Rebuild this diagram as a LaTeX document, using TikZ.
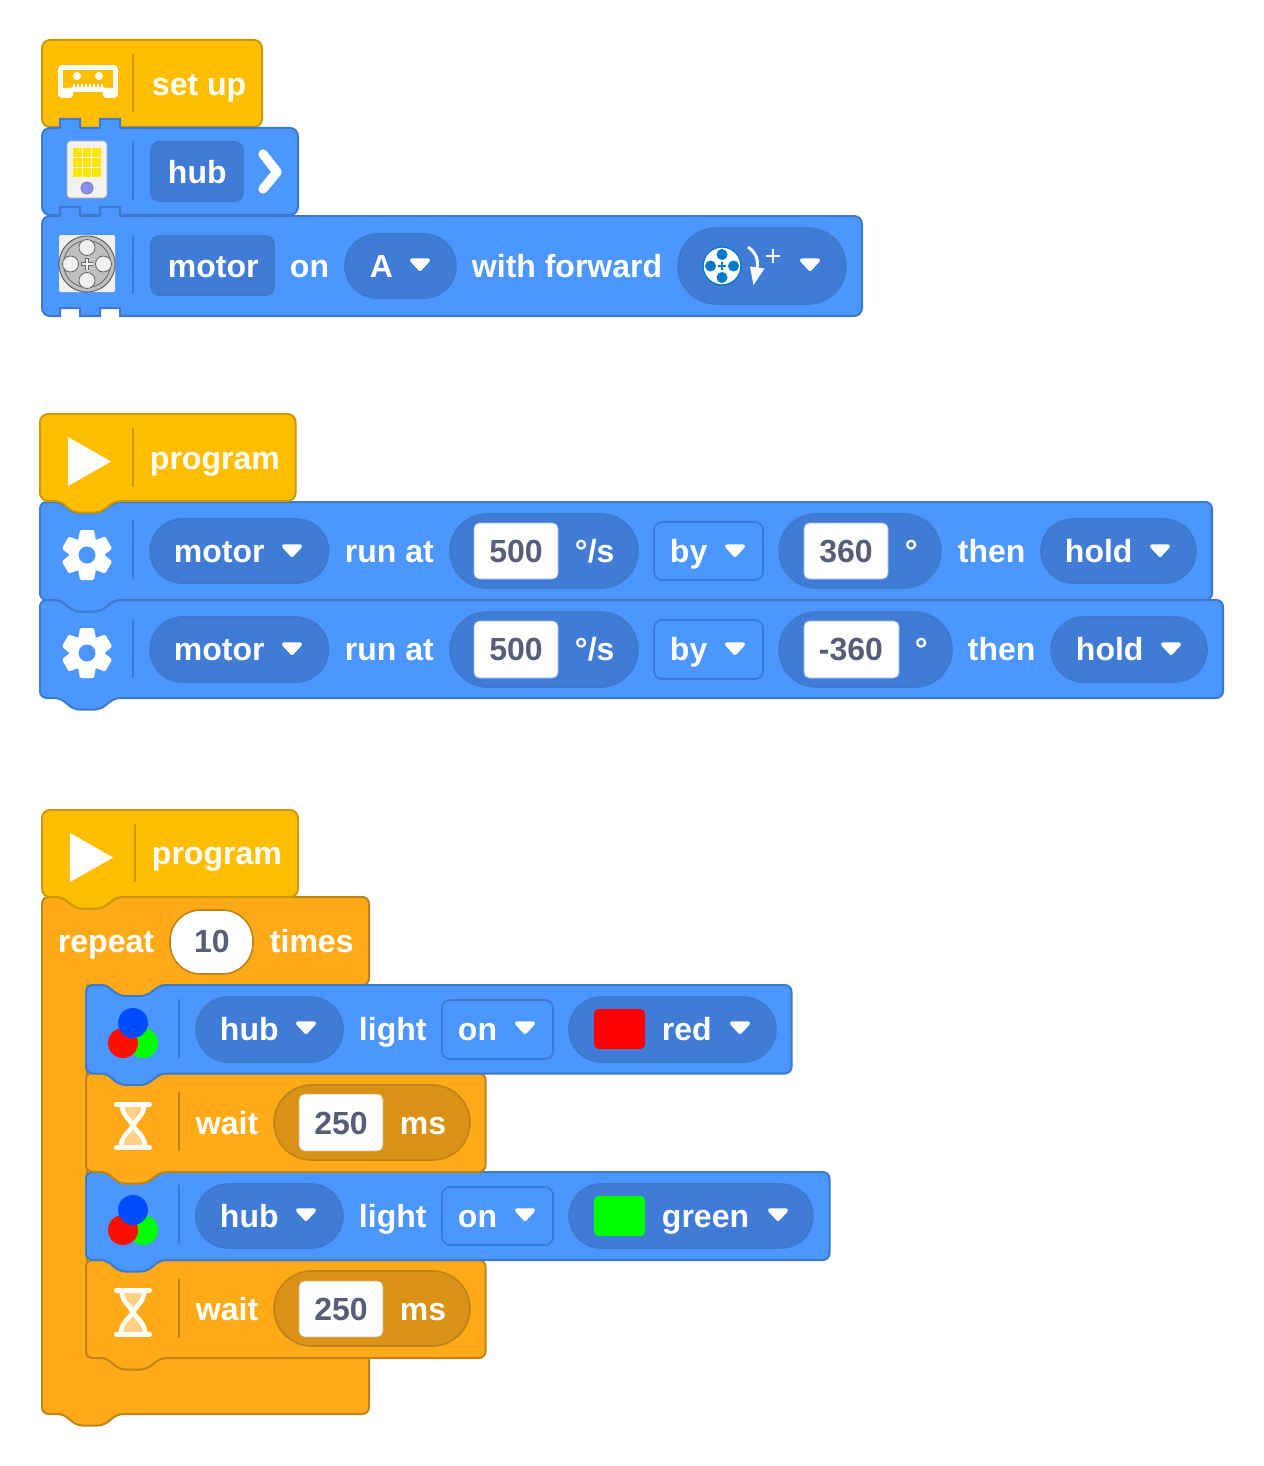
\documentclass[tikz,border=0pt]{standalone}
\usepackage{fontspec}
\setmainfont{Liberation Sans}
\definecolor{hatY}{HTML}{FFBF00}
\definecolor{hatS}{HTML}{CC9900}
\definecolor{bluB}{HTML}{4C97FF}
\definecolor{bluS}{HTML}{3D79CC}
\definecolor{bluP}{HTML}{407CD6}
\definecolor{orgB}{HTML}{FFAB19}
\definecolor{orgS}{HTML}{BF8317}
\definecolor{orgP}{HTML}{D99116}
\definecolor{valG}{HTML}{575E75}
\definecolor{sand}{HTML}{FFD085}
\definecolor{fwd}{HTML}{0079C8}
\definecolor{iconW}{HTML}{F2F2F2}
\definecolor{iconG}{HTML}{C0C0C0}
\tikzset{
 hatblock/.style={fill=hatY,draw=hatS,line width=1.5pt},
 blueblock/.style={fill=bluB,draw=bluS,line width=1.5pt},
 orangeblock/.style={fill=orgB,draw=orgS,line width=1.5pt},
 bluepill/.style={fill=bluP,draw=bluS,line width=1.2pt},
 bluemenu/.style={fill=bluB,draw=bluS,line width=1.2pt},
 orangepill/.style={fill=orgP,draw=orgS,line width=1.2pt},
 whitebox/.style={fill=white,draw=bluS!50,line width=0.6pt,rounded corners=4pt},
 whiteboxO/.style={fill=white,draw=orgS!60,line width=0.6pt,rounded corners=4pt},
 labeltext/.style={text=white,font=\bfseries\fontsize{24}{28}\selectfont,inner sep=0pt,anchor=base west},
 valuetext/.style={text=valG,font=\bfseries\fontsize{24}{28}\selectfont,inner sep=0pt,anchor=base},
}
\newcommand\lbl[4]{\node[labeltext] (#1) at (#2-0.3,#3) {#4};}
\newcommand\val[4]{\node[valuetext] (#1) at (#2,#3) {#4};}
\newcommand\divider[4]{\draw[#1,line width=1.5pt] (#2,#3) -- (#2,#4);}
\newcommand\dropd[2]{\path[fill=white,draw=white,line width=3pt,line join=round] (#1-8,#2-4.7) -- (#1+8,#2-4.7) -- (#1,#2+4) -- cycle;}
\newcommand\pill[5]{\pgfmathsetmacro\myr{(#5-#3)*0.375}\path[#1,rounded corners=\myr pt] (#2,#3) rectangle (#4,#5);}
\newcommand\sqbox[5]{\path[#1,rounded corners=6pt] (#2,#3) rectangle (#4,#5);}
% scratch block with notch on top and bottom
\newcommand\blockS[5]{\path[#1,rounded corners=5pt] (#2,#3+20) -- (#2,#3) [rounded corners=4pt] -- (#2+20,#3) -- (#2+34,#3+11) -- (#2+60,#3+11) -- (#2+75,#3) [rounded corners=5pt] -- (#4,#3) -- (#4,#5) [rounded corners=4pt] -- (#2+75,#5) -- (#2+60,#5+11.5) -- (#2+34,#5+11.5) -- (#2+20,#5) [rounded corners=5pt] -- (#2,#5) -- cycle;}
% hat block: bottom notch only
\newcommand\blockH[5]{\path[#1,rounded corners=6pt] (#2,#3+20) -- (#2,#3) -- (#4,#3) -- (#4,#5) [rounded corners=4pt] -- (#2+75,#5) -- (#2+60,#5+11.5) -- (#2+34,#5+11.5) -- (#2+20,#5) [rounded corners=6pt] -- (#2,#5) -- cycle;}
% puzzle block: tabs on top, cuts at the bottom
\newcommand\blockP[5]{\path[#1,rounded corners=6pt] (#2,#3+20) -- (#2,#3) [sharp corners] -- (#2+18,#3) -- (#2+18,#3-9) -- (#2+38,#3-9) -- (#2+38,#3) -- (#2+58,#3) -- (#2+58,#3-9) -- (#2+78,#3-9) -- (#2+78,#3) [rounded corners=6pt] -- (#4,#3) -- (#4,#5) [sharp corners] -- (#2+78,#5) -- (#2+78,#5-8) -- (#2+58,#5-8) -- (#2+58,#5) -- (#2+38,#5) -- (#2+38,#5-8) -- (#2+18,#5-8) -- (#2+18,#5) [rounded corners=6pt] -- (#2,#5) -- cycle;}
\newcommand\gear[2]{\begin{scope}[shift={(#1,#2)}]
 \fill[white] (0,0) circle (18);
 \foreach \a in {0,60,...,300} {\fill[white,rotate=\a,rounded corners=1pt] (-7,-25) -- (7,-25) -- (9.5,-10) -- (-9.5,-10) -- cycle;}
 \fill[bluB] (0,0) circle (8.5);
 \end{scope}}
\newcommand\rgb[2]{\begin{scope}[shift={(#1,#2)}]
 \fill[green] (10,20) circle (15);
 \fill[red!90!orange] (-10,20) circle (15);
 \fill[blue!70!cyan] (0,0) circle (15);
 \end{scope}}
\newcommand\hourglass[2]{\begin{scope}[shift={(#1,#2)}]
 \fill[sand] (-10,-20) -- (10,-20) -- (0,-3) -- cycle;
 \fill[sand] (0,3) -- (11,20) -- (-11,20) -- cycle;
 \draw[white,line width=3.5pt] (0,0) .. controls (-3,-6) and (-10.5,-10) .. (-11.5,-21);
 \draw[white,line width=3.5pt] (0,0) .. controls (3,-6) and (10.5,-10) .. (11.5,-21);
 \draw[white,line width=3.5pt] (0,0) .. controls (-3,6) and (-11.5,10) .. (-12.5,22);
 \draw[white,line width=3.5pt] (0,0) .. controls (3,6) and (11.5,10) .. (12.5,22);
 \fill[white] (0,0) circle (3.2);
 \draw[white,line width=3.75pt,line cap=round] (-16.5,-21.3) -- (16.5,-21.3);
 \draw[white,line width=3.75pt,line cap=round] (-16.5,22) -- (16.5,22);
 \end{scope}}
\begin{document}
\begin{tikzpicture}[x=0.75pt,y=-0.75pt]
\useasboundingbox (0,0) rectangle (1263,1466);
\fill[white] (0,0) rectangle (1263,1466);

%% ---------- stack 1 ----------
\blockH{hatblock}{42}{40}{262}{127}
\divider{hatS}{133}{54}{112}
% tape icon
\draw[white,line width=3.7pt,line join=round,rounded corners=1.5pt] (60.5,95.5) -- (60.5,67.5) -- (115.5,67.5) -- (115.5,95.5) -- (105,95.5) -- (105,89.5) -- (71,89.5) -- (71,95.5) -- cycle;
\fill[white] (60,88) rectangle (71,96) (105,88) rectangle (116,96);
\fill[white] (77,76) circle (4) (99,76) circle (4);
\foreach \tx in {74,78,...,102} {\draw[white,line width=0.8pt] (\tx,84) -- (\tx,88);}
\lbl{setup}{152}{96}{set up}

\blockP{blueblock}{42}{128}{298}{215}
\divider{bluS}{133}{141}{200}
\draw[fill=iconW,draw=gray!70,line width=0.7pt,rounded corners=2.5pt] (67,141) rectangle (107,198);
\fill[yellow!90!orange] (73,148) rectangle (101,177);
\draw[iconW,line width=0.8pt] (82.3,148) -- (82.3,177) (91.7,148) -- (91.7,177) (73,157.7) -- (101,157.7) (73,167.3) -- (101,167.3);
\draw[fill=blue!45!white,draw=gray,line width=0.6pt] (87,188) circle (6);
\sqbox{bluepill}{151}{142}{243}{201}
\lbl{hubA}{168}{183}{hub}
\draw[white,line width=7pt,line cap=round,line join=round] (263,154) -- (277,172) -- (263,189);

\blockP{blueblock}{42}{216}{862}{316}
\divider{bluS}{133}{235}{294}
\fill[iconW,rounded corners=1.5pt] (59,235) rectangle (115,292);
\draw[fill=iconG,draw=gray!80!black,line width=0.8pt] (87,264) circle (28);
\draw[gray!80!black,line width=0.6pt] (87,264) circle (23.5);
\foreach \dx/\dy in {0/-16.5,0/16.5,-16.5/0,16.5/0} {\draw[fill=iconW,draw=gray!80!black,line width=0.6pt] (87+\dx,264+\dy) circle (8);}
\draw[gray!80!black,line width=2.4pt] (81,264) -- (93,264) (87,258) -- (87,270);
\draw[iconW,line width=1.3pt] (81.5,264) -- (92.5,264) (87,258.5) -- (87,269.5);
\sqbox{bluepill}{151}{236}{274}{295}
\lbl{motorA}{168}{277}{motor}
\lbl{onA}{290}{277}{on}
\pill{bluepill}{345}{234}{456}{298}
\lbl{portA}{370}{277}{A}
\dropd{420}{265}
\lbl{withfwd}{472}{277}{with forward}
\pill{bluepill}{678}{228}{846}{304}
\draw[fill=white,draw=fwd,line width=1pt] (722,266) circle (19);
\foreach \dx/\dy in {0/-11.5,0/11.5,-11.5/0,11.5/0} {\fill[fwd] (722+\dx,266+\dy) circle (5.5);}
\draw[fwd,line width=1.5pt] (718,266) -- (726,266) (722,262) -- (722,270);
\draw[white,line width=2.2pt] (748,247) .. controls (755,252) and (759,259) .. (757,268);
\fill[white] (750,266.5) -- (764.5,268.5) -- (753.5,285) -- cycle;
\draw[white,line width=2.1pt] (766,256) -- (780,256) (773,249) -- (773,263);
\dropd{810}{265}

%% ---------- stack 2 ----------
\blockS{blueblock}{40}{600}{1223}{698}
\gear{87}{653}
\divider{bluS}{133}{619}{678}
\pill{bluepill}{150}{617}{328.5}{682}
\lbl{motorC}{174}{660}{motor}
\dropd{292}{649}
\lbl{runC}{345}{660}{run at}
\pill{bluepill}{450}{612}{638}{687}
\path[whitebox] (474,621) rectangle (558,678);
\val{valC}{516}{660}{500}
\lbl{dpsC}{575}{660}{°/s}
\sqbox{bluemenu}{654}{620}{763}{679}
\lbl{byC}{670}{660}{by}
\dropd{735}{649}
\pill{bluepill}{779}{612}{952}{687}
\path[whitebox] (804,621) rectangle (899,678);
\val{degC}{851}{660}{-360}
\lbl{degCu}{915}{660}{°}
\lbl{thenC}{968}{660}{then}
\pill{bluepill}{1051}{617}{1207}{682}
\lbl{holdC}{1076}{660}{hold}
\dropd{1171}{649}

\blockS{blueblock}{40}{502}{1212}{600}
\gear{87}{555}
\divider{bluS}{133}{520}{579}
\pill{bluepill}{150}{519}{328.5}{583}
\lbl{motorB}{174}{562}{motor}
\dropd{292}{551}
\lbl{runB}{345}{562}{run at}
\pill{bluepill}{450}{514}{638}{588}
\path[whitebox] (474,523) rectangle (558,579);
\val{valB}{516}{562}{500}
\lbl{dpsB}{575}{562}{°/s}
\sqbox{bluemenu}{654}{522}{763}{580}
\lbl{byB}{670}{562}{by}
\dropd{735}{551}
\pill{bluepill}{779}{514}{941}{588}
\path[whitebox] (804,523) rectangle (888,579);
\val{degB}{846}{562}{360}
\lbl{degBu}{905}{562}{°}
\lbl{thenB}{958}{562}{then}
\pill{bluepill}{1041}{519}{1196}{583}
\lbl{holdB}{1065}{562}{hold}
\dropd{1160}{551}

\blockH{hatblock}{40}{414}{295.5}{501}
\divider{hatS}{133}{428}{487}
\fill[white] (68,437) -- (111,461.5) -- (68,486) -- cycle;
\lbl{progA}{150}{469}{program}

%% ---------- stack 3 ----------
% C-shaped repeat block
\path[orangeblock,rounded corners=5pt] (42,917) -- (42,897) [rounded corners=4pt] -- (62,897) -- (76,908) -- (102,908) -- (117,897) [rounded corners=5pt] -- (369,897) -- (369,985) -- (300,985) [sharp corners] -- (161,985.5) -- (146,997) -- (120,997) -- (106,985.5) -- (87,985.5) -- (87,1356) -- (369,1356) [rounded corners=5pt] -- (369,1414) [rounded corners=4pt] -- (118,1414) -- (103,1425.5) -- (77,1425.5) -- (63,1414) [rounded corners=5pt] -- (42,1414) -- cycle;

\blockS{orangeblock}{86}{1260}{485.5}{1358}
\hourglass{133}{1312}
\divider{orgS}{179}{1279}{1338}
\lbl{waitB}{196}{1320}{wait}
\pill{orangepill}{274}{1271}{470}{1346}
\path[whiteboxO] (299,1281) rectangle (383,1337);
\val{msvB}{341}{1320}{250}
\lbl{msB}{400}{1320}{ms}

\blockS{blueblock}{86}{1172}{829.5}{1260}
\rgb{133}{1210}
\divider{bluS}{179}{1185}{1244}
\pill{bluepill}{196}{1184}{343}{1248}
\lbl{hubC}{220}{1227}{hub}
\dropd{306}{1215}
\lbl{lightB}{359}{1227}{light}
\sqbox{bluemenu}{442}{1187}{553}{1245}
\lbl{onC}{458}{1227}{on}
\dropd{525}{1215}
\pill{bluepill}{569}{1184}{813}{1248}
\fill[green,rounded corners=3.5pt] (594,1196) rectangle (645,1236);
\lbl{greenl}{662}{1227}{green}
\dropd{778}{1215}

\blockS{orangeblock}{86}{1073}{485.5}{1172}
\hourglass{133}{1125.5}
\divider{orgS}{179}{1092}{1151}
\lbl{waitA}{196}{1134}{wait}
\pill{orangepill}{274}{1085}{470}{1160}
\path[whiteboxO] (299,1094) rectangle (383,1151);
\val{msvA}{341}{1134}{250}
\lbl{msA}{400}{1134}{ms}

\blockS{blueblock}{86}{985}{791.5}{1073.5}
\rgb{133}{1023}
\divider{bluS}{179}{999}{1058}
\pill{bluepill}{196}{997}{343}{1062}
\lbl{hubB}{220}{1040}{hub}
\dropd{306}{1028}
\lbl{lightA}{359}{1040}{light}
\sqbox{bluemenu}{442}{1000}{553}{1059}
\lbl{onB}{458}{1040}{on}
\dropd{525}{1028}
\pill{bluepill}{569}{997}{776}{1062}
\fill[red,rounded corners=3.5pt] (594,1009) rectangle (645,1049);
\lbl{redl}{662}{1040}{red}
\dropd{740}{1028}

% repeat labels
\lbl{repeatl}{58}{952}{repeat}
\path[fill=white,draw=orgS,line width=1.2pt,rounded corners=23pt] (170,910) rectangle (253,974);
\val{times10}{212}{952}{10}
\lbl{timesl}{270}{952}{times}

\blockH{hatblock}{42}{810}{298}{897}
\divider{hatS}{135}{824}{882}
\fill[white] (70,833) -- (113,857.5) -- (70,882) -- cycle;
\lbl{progB}{152}{864}{program}
\end{tikzpicture}
\end{document}
